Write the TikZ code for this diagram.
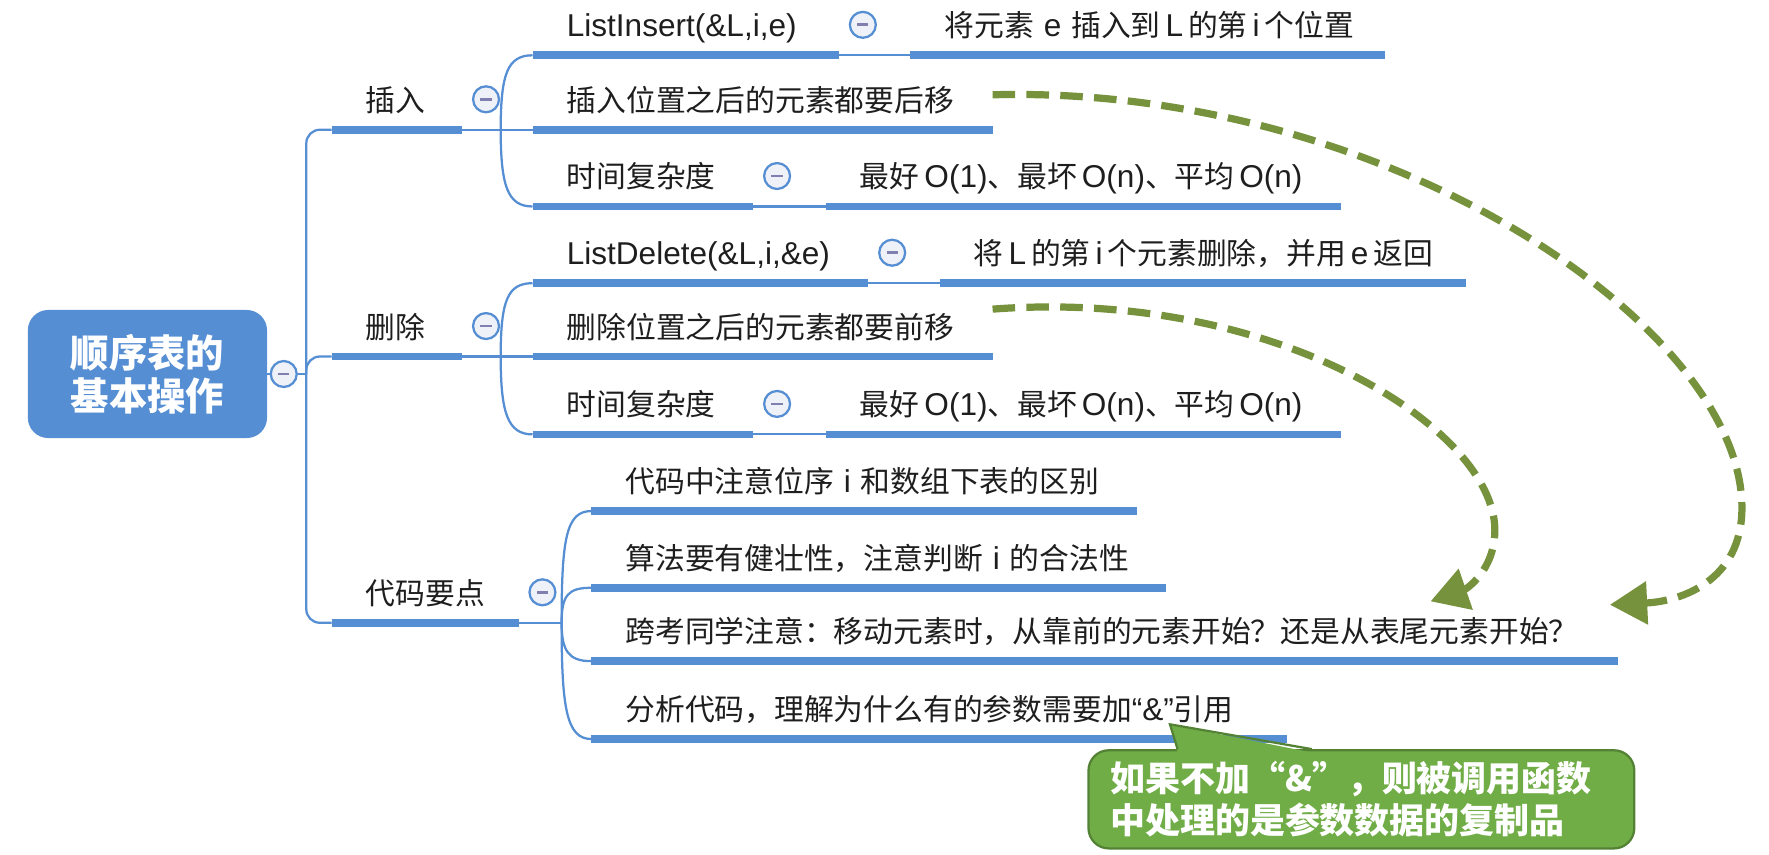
\documentclass[tikz,border=0pt]{standalone}
\usepackage{fontspec}
\setmainfont{Noto Sans CJK SC}
\newfontfamily\enfont{Liberation Sans}[Scale=1.06]
\newcommand\en[1]{{\enfont #1}}
\newcommand\fwq[1]{{\addfontfeature{CharacterWidth=Full}#1}}
\usetikzlibrary{arrows.meta}

\definecolor{mapblue}{RGB}{86,142,212}
\definecolor{btnfill}{RGB}{238,241,248}
\definecolor{btnmark}{RGB}{128,128,176}
\definecolor{textdark}{RGB}{30,30,30}
\definecolor{arrowgreen}{RGB}{118,146,60}
\definecolor{notefill}{RGB}{112,173,71}
\definecolor{noteline}{RGB}{84,130,53}

\tikzset{
    topic/.style={anchor=south west, inner xsep=15pt, inner ysep=8pt, text depth=0pt,
        text width=#1, align=left, text=textdark, font=\fontsize{13.2pt}{16pt}\selectfont},
    rootbox/.style={rectangle, rounded corners=9pt, fill=mapblue, text=white, align=center,
        minimum width=106pt, minimum height=56.75pt, inner sep=0pt,
        font=\fontsize{17pt}{19.2pt}\selectfont\bfseries},
    btn/.style={circle, draw=mapblue, line width=1pt, fill=btnfill, minimum size=11.5pt, inner sep=0pt,
        path picture={\draw[btnmark, line width=1.2pt] ([xshift=-2.5pt]path picture bounding box.center)
            -- ([xshift=2.5pt]path picture bounding box.center);}},
    conn/.style={draw=mapblue, line width=1pt},
    uline/.style={draw=mapblue, line width=3.4pt},
    hint/.style={draw=arrowgreen, line width=3.2pt, dash pattern=on 10pt off 5pt,
        -{Triangle[length=16.5pt,width=18.5pt]}},
    notebox/.style={rectangle, rounded corners=9pt, fill=notefill, draw=noteline, line width=1pt,
        text=white, align=left, text width=222.7pt, inner xsep=9.6pt, minimum height=43.5pt,
        font=\fontsize{15.5pt}{18.5pt}\selectfont\bfseries}
}

\begin{document}
\begin{tikzpicture}[x=0.5pt, y=-0.5pt]
    \useasboundingbox (0,0) rectangle (1568,757);

    % root
    \node[rootbox] (root) at (130.7,331.5) {顺序表的\\基本操作};
    \node[btn] (root-btn) at ([xshift=7.2pt]root.east) {};

    % first level
    \node[topic=27.5pt] (ins) at (294,115) {插入};
    \node[topic=27.5pt] (del) at (294,316) {删除};
    \node[topic=52.5pt] (code) at (294,552) {代码要点};

    % second level
    \node[topic=105.5pt] (insA) at (472,49) {\en{ListInsert(\&L,i,e)}};
    \node[topic=173.5pt] (insB) at (472,115) {插入位置之后的元素都要后移};
    \node[topic=67.5pt] (insC) at (472,183) {时间复杂度};
    \node[topic=118.5pt] (delA) at (472,251) {\en{ListDelete(\&L,i,\&e)}};
    \node[topic=173.5pt] (delB) at (472,316) {删除位置之后的元素都要前移};
    \node[topic=67.5pt] (delC) at (472,385) {时间复杂度};
    \node[topic=211.5pt] (codeA) at (524,453) {代码中注意位序\en{~i~}和数组下表的区别};
    \node[topic=224.5pt] (codeB) at (524,521) {算法要有健壮性，注意判断\en{~i~}的合法性};
    \node[topic=424.5pt] (codeC) at (524,586) {跨考同学注意：移动元素时，从靠前的元素开始？还是从表尾元素开始？};
    \node[topic=278pt] (codeD) at (524,655) {分析代码，理解为什么有的参数需要加\en{“\&”}引用};

    % third level
    \node[topic=180pt] (insA1) at ([xshift=31.5pt]insA.south east) {将元素\en{~e~}插入到\,\en{L}\,的第\,\en{i}\,个位置};
    \node[topic=198pt] (insC1) at ([xshift=32pt]insC.south east) {最好\,\en{O(1)}、最坏\,\en{O(n)}、平均\,\en{O(n)}};
    \node[topic=203pt] (delA1) at ([xshift=31.5pt]delA.south east) {将\,\en{L}\,的第\,\en{i}\,个元素删除，并用\,\en{e}\,返回};
    \node[topic=198pt] (delC1) at ([xshift=32pt]delC.south east) {最好\,\en{O(1)}、最坏\,\en{O(n)}、平均\,\en{O(n)}};

    % underlines and collapse buttons
    \foreach \n in {ins,del,code,insA,insB,insC,insA1,insC1,delA,delB,delC,delA1,delC1,codeA,codeB,codeC,codeD}
        \draw[uline] (\n.south west) -- (\n.south east);
    \foreach \n in {ins,del,code,insA,insC,delA,delC}
        \node[btn] (\n-btn) at ([shift={(10.5pt,13.5pt)}]\n.south east) {};

    % root to first level
    \draw[conn] (root.east) -- (root-btn.west);
    \draw[conn] (root-btn.east) -- ++(3.75pt,0) coordinate (spine);
    \foreach \n in {ins,del,code}
        \draw[conn, rounded corners=6pt] (spine) |- (\n.south west);

    % first to second level
    \draw[conn] (ins.south east) -- ++(17pt,0) coordinate (ins-j);
    \draw[conn] (ins-j) .. controls +(0,-50) and +(-22,0) .. (insA.south west);
    \draw[conn] (ins-j) -- (insB.south west);
    \draw[conn] (ins-j) .. controls +(0,50) and +(-22,0) .. (insC.south west);

    \draw[conn] (del.south east) -- ++(17pt,0) coordinate (del-j);
    \draw[conn] (del-j) .. controls +(0,-50) and +(-22,0) .. (delA.south west);
    \draw[conn] (del-j) -- (delB.south west);
    \draw[conn] (del-j) .. controls +(0,50) and +(-22,0) .. (delC.south west);

    \draw[conn] (code.south east) -- ++(19pt,0) coordinate (code-j);
    \draw[conn] (code-j) .. controls +(0,-75) and +(-22,0) .. (codeA.south west);
    \draw[conn] (code-j) .. controls +(0,-25) and +(-20,0) .. (codeB.south west);
    \draw[conn] (code-j) .. controls +(0,25) and +(-20,0) .. (codeC.south west);
    \draw[conn] (code-j) .. controls +(0,75) and +(-22,0) .. (codeD.south west);

    % second to third level
    \draw[conn] (insA.south east) -- (insA1.south west);
    \draw[conn] (insC.south east) -- (insC1.south west);
    \draw[conn] (delA.south east) -- (delA1.south west);
    \draw[conn] (delC.south east) -- (delC1.south west);

    % dashed hints
    \coordinate (tipA) at (1427,536);
    \coordinate (tipB) at (1268,533);
    \draw[hint] ([yshift=15.5pt]insB.south east) .. controls (1230,75) and (1544,290) .. (1544,450)
        .. controls (1544,515) and (1490,533) .. (tipA);
    \draw[hint] ([yshift=21pt]delB.south east) .. controls (1130,255) and (1325,380) .. (1325,470)
        .. controls (1325,505) and (1300,522) .. (tipB);

    % note
    \node[notebox] (note) at (1206.7,708.5) {如果不加\fwq{“}\&\fwq{”}，则被调用函数\\中处理的是参数数据的复制品};
    \coordinate (note-tip) at (1037,642);
    \fill[notefill] ([xshift=40pt,yshift=-1.5pt]note.north west) -- (note-tip)
        -- ([xshift=99.5pt,yshift=-1.5pt]note.north west) -- cycle;
    \draw[noteline, line width=1pt] ([xshift=40pt]note.north west) -- (note-tip)
        -- ([xshift=99.5pt]note.north west);
\end{tikzpicture}
\end{document}
